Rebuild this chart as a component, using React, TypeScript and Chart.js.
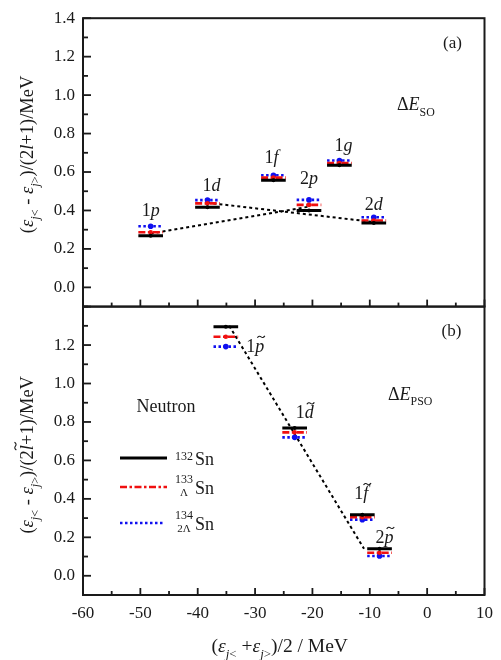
import React, { useEffect, useRef } from 'react';
import { Chart, registerables } from 'chart.js';

Chart.register(...registerables);

// ---------------- data ----------------
const soLevels = ['1p', '1d', '1f', '2p', '1g', '2d'];
const soCenters = [-48.2, -38.3, -26.8, -20.6, -15.3, -9.3];
const soSn132 = [0.268, 0.417, 0.557, 0.4, 0.635, 0.335];
const soSn133 = [0.287, 0.437, 0.571, 0.429, 0.647, 0.348];
const soSn134 = [0.318, 0.454, 0.583, 0.455, 0.66, 0.365];

const psoLevels = ['1p', '1d', '1f', '2p'];
const psoCenters = [-35.1, -23.1, -11.3, -8.3];
const psoSn132 = [1.295, 0.768, 0.317, 0.141];
const psoSn133 = [1.243, 0.746, 0.304, 0.12];
const psoSn134 = [1.192, 0.72, 0.292, 0.103];

const soTrend1X = [-48.2, -20.6];
const soTrend1Y = [0.28, 0.42];
const soTrend2X = [-38.3, -9.3];
const soTrend2Y = [0.44, 0.34];
const psoTrendX = [-34.5, -11.0];
const psoTrendY = [1.3, 0.14];

const xTickLabels = [-60, -50, -40, -30, -20, -10, 0, 10];
const yTopTickLabels = ['0.0', '0.2', '0.4', '0.6', '0.8', '1.0', '1.2', '1.4'];
const yBotTickLabels = ['0.0', '0.2', '0.4', '0.6', '0.8', '1.0', '1.2'];

// ---------------- styles ----------------
const FONT = '"Liberation Serif", "Times New Roman", serif';
const INK = '#1a1a1a';
const BLACK = '#000000';
const RED = '#f01010';
const BLUE = '#1010f0';
const HALF = 2.15; // half width of a level bar in x units

const series = [
  { color: BLACK, width: 3, dash: [] as number[], r: 2 },
  { color: RED, width: 2.6, dash: [7, 2.5, 2.5, 2.5], r: 2.3 },
  { color: BLUE, width: 2.6, dash: [2.5, 2.5], r: 2.8 },
];

type Run = { t: string; it?: boolean; sub?: boolean; sup?: boolean; tilde?: number };

function runFont(r: Run, size: number) {
  const s = r.sub || r.sup ? size * 0.66 : size;
  return `${r.it ? 'italic ' : ''}${s}px ${FONT}`;
}

function measureRuns(ctx: CanvasRenderingContext2D, runs: Run[], size: number) {
  let w = 0;
  for (const r of runs) {
    ctx.font = runFont(r, size);
    w += ctx.measureText(r.t).width;
  }
  return w;
}

function drawRuns(
  ctx: CanvasRenderingContext2D,
  runs: Run[],
  x: number,
  y: number,
  size: number,
  align: 'left' | 'center' | 'right' = 'left'
) {
  const total = measureRuns(ctx, runs, size);
  let cx = align === 'center' ? x - total / 2 : align === 'right' ? x - total : x;
  ctx.textAlign = 'left';
  ctx.textBaseline = 'alphabetic';
  for (const r of runs) {
    ctx.font = runFont(r, size);
    const w = ctx.measureText(r.t).width;
    const dy = r.sub ? size * 0.3 : r.sup ? -size * 0.4 : 0;
    ctx.fillText(r.t, cx, y + dy);
    if (r.tilde) {
      const tw = size * 0.42;
      const a = size * 0.05;
      const x0 = cx + w / 2 - tw / 2 + (r.it ? size * 0.08 : 0);
      const ty = y - size * r.tilde;
      ctx.save();
      ctx.strokeStyle = ctx.fillStyle as string;
      ctx.lineWidth = 1.1;
      ctx.setLineDash([]);
      ctx.beginPath();
      ctx.moveTo(x0, ty + a);
      ctx.quadraticCurveTo(x0 + tw * 0.25, ty - a * 1.8, x0 + tw * 0.5, ty);
      ctx.quadraticCurveTo(x0 + tw * 0.75, ty + a * 1.8, x0 + tw, ty - a);
      ctx.stroke();
      ctx.restore();
    }
    cx += w;
  }
}

function levelRuns(name: string, tilde: boolean): Run[] {
  return [{ t: name[0] }, { t: name.slice(1), it: true, tilde: tilde ? 0.82 : undefined }];
}

function segData(centers: number[], ys: number[]) {
  const out: any[] = [];
  centers.forEach((c, i) => {
    out.push({ x: c - HALF, y: ys[i] }, { x: c, y: ys[i], c: 1 }, { x: c + HALF, y: ys[i] }, { x: c + HALF, y: null });
  });
  return out;
}

function levelDataset(centers: number[], ys: number[], k: number, axis: string) {
  const s = series[k];
  return {
    data: segData(centers, ys),
    yAxisID: axis,
    borderColor: s.color,
    borderWidth: s.width,
    borderDash: s.dash,
    borderCapStyle: 'butt',
    spanGaps: false,
    tension: 0,
    fill: false,
    pointRadius: (c: any) => (c.raw && c.raw.c ? s.r : 0),
    pointBackgroundColor: s.color,
    pointBorderColor: s.color,
    pointBorderWidth: 0,
  };
}

function trendDataset(xs: number[], ys: number[], axis: string) {
  return {
    data: xs.map((x, i) => ({ x, y: ys[i] })),
    yAxisID: axis,
    borderColor: BLACK,
    borderWidth: 2,
    borderDash: [3, 3],
    pointRadius: 0,
    tension: 0,
    fill: false,
  };
}

const titleRuns = (tilde: boolean): Run[] => [
  { t: '(' },
  { t: 'ε', it: true },
  { t: 'j', it: true, sub: true },
  { t: '<', sub: true },
  { t: ' - ' },
  { t: 'ε', it: true },
  { t: 'j', it: true, sub: true },
  { t: '>', sub: true },
  { t: ')/(2' },
  { t: 'l', it: true, tilde: tilde ? 0.95 : undefined },
  { t: '+1)/MeV' },
];

const xTitleRuns: Run[] = [
  { t: '(' },
  { t: 'ε', it: true },
  { t: 'j', it: true, sub: true },
  { t: '<', sub: true },
  { t: ' +' },
  { t: 'ε', it: true },
  { t: 'j', it: true, sub: true },
  { t: '>', sub: true },
  { t: ')/2 / MeV' },
];

const soLabelOffsets = [
  [0, -10], [4, -9], [-2, -12], [0, -16], [4, -9], [0, -7],
];
const psoLabelOffsets = [
  [0, 0], [10, -10], [-1, -16], [5, -6],
];

const decor = {
  id: 'decor',
  afterDraw(chart: any) {
    const { ctx, chartArea: ca } = chart;
    const xs = chart.scales.x;
    const yt = chart.scales.yTop;
    const yb = chart.scales.yBot;
    ctx.save();
    ctx.setLineDash([]);
    ctx.strokeStyle = INK;
    // frames
    ctx.lineWidth = 2;
    for (const s of [yt, yb]) ctx.strokeRect(ca.left, s.top, ca.right - ca.left, s.bottom - s.top);
    // x ticks (inward) at the bottom of both panels
    ctx.lineWidth = 1.8;
    for (let v = xs.min; v <= xs.max + 1e-9; v += 5) {
      const px = xs.getPixelForValue(v);
      const len = Math.round(v) % 10 === 0 ? 7 : 4;
      for (const s of [yt, yb]) {
        ctx.beginPath();
        ctx.moveTo(px, s.bottom);
        ctx.lineTo(px, s.bottom - len);
        ctx.stroke();
      }
    }
    // y ticks (inward)
    for (const s of [yt, yb]) {
      s.ticks.forEach((t: any) => {
        const k = Math.round(t.value * 10);
        const len = k % 2 === 0 ? 8 : 5;
        const py = s.getPixelForValue(t.value);
        ctx.beginPath();
        ctx.moveTo(ca.left, py);
        ctx.lineTo(ca.left + len, py);
        ctx.stroke();
      });
    }

    ctx.fillStyle = INK;
    // level labels
    soLevels.forEach((n, i) => {
      const px = xs.getPixelForValue(soCenters[i]) + soLabelOffsets[i][0];
      const py = yt.getPixelForValue(soSn134[i]) + soLabelOffsets[i][1];
      drawRuns(ctx, levelRuns(n, false), px, py, 18, 'center');
    });
    psoLevels.forEach((n, i) => {
      if (i === 0) {
        const px = xs.getPixelForValue(psoCenters[i] + HALF) + 8;
        const py = yb.getPixelForValue(psoSn134[i]) + 5;
        drawRuns(ctx, levelRuns(n, true), px, py, 18, 'left');
      } else {
        const px = xs.getPixelForValue(psoCenters[i]) + psoLabelOffsets[i][0];
        const py = yb.getPixelForValue(psoSn132[i]) + psoLabelOffsets[i][1];
        drawRuns(ctx, levelRuns(n, true), px, py, 18, 'center');
      }
    });

    // panel labels
    ctx.font = `17px ${FONT}`;
    ctx.textAlign = 'center';
    ctx.textBaseline = 'middle';
    ctx.fillText('(a)', ca.right - 32, yt.top + 25);
    ctx.fillText('(b)', ca.right - 33, yb.top + 25);

    // delta E labels
    drawRuns(ctx, [{ t: 'Δ' }, { t: 'E', it: true }, { t: 'SO', sub: true }], 397, yt.top + 92, 18, 'left');
    drawRuns(ctx, [{ t: 'Δ' }, { t: 'E', it: true }, { t: 'PSO', sub: true }], 388, yb.top + 93, 18, 'left');

    // Neutron + legend
    ctx.font = `18px ${FONT}`;
    ctx.textAlign = 'center';
    ctx.textBaseline = 'alphabetic';
    ctx.fillText('Neutron', 166, 412);
    const legendY = [458, 487, 523];
    const legendX0 = 120;
    const legendX1 = [167, 167, 164];
    series.forEach((s, k) => {
      ctx.save();
      ctx.strokeStyle = s.color;
      ctx.lineWidth = s.width;
      ctx.setLineDash(s.dash);
      ctx.beginPath();
      ctx.moveTo(legendX0, legendY[k]);
      ctx.lineTo(legendX1[k], legendY[k]);
      ctx.stroke();
      ctx.restore();
    });
    const base = [465, 494, 530];
    const sups = ['132', '133', '134'];
    const subs = ['', 'Λ', '2Λ'];
    ctx.fillStyle = INK;
    ctx.textAlign = 'left';
    base.forEach((b, k) => {
      ctx.font = `18px ${FONT}`;
      ctx.fillText('Sn', 195, b);
      ctx.font = `12px ${FONT}`;
      ctx.textAlign = 'center';
      if (subs[k]) {
        ctx.fillText(sups[k], 184, b - 11);
        ctx.font = `11px ${FONT}`;
        ctx.fillText(subs[k], 184, b + 2);
      } else {
        ctx.fillText(sups[k], 184, b - 5);
      }
      ctx.textAlign = 'left';
    });

    // axis titles
    ctx.fillStyle = INK;
    const titleShift = [-8, 4];
    [yt, yb].forEach((s: any, k: number) => {
      ctx.save();
      ctx.translate(33, (s.top + s.bottom) / 2 + titleShift[k]);
      ctx.rotate(-Math.PI / 2);
      drawRuns(ctx, titleRuns(k === 1), 0, 0, 18.5, 'center');
      ctx.restore();
    });
    drawRuns(ctx, xTitleRuns, (ca.left + ca.right) / 2 - 4, 652, 19.5, 'center');
    ctx.restore();
  },
};

const tickFont = { family: FONT, size: 17 };

function yScale(labels: string[]) {
  return {
    type: 'linear',
    position: 'left',
    stack: 'panels',
    stackWeight: 1,
    min: -0.1,
    max: 1.4,
    ticks: {
      stepSize: 0.1,
      autoSkip: false,
      font: tickFont,
      color: INK,
      padding: 8,
      callback: (v: number) => {
        const s = (Math.round(v * 10) / 10).toFixed(1);
        return labels.includes(s) ? s : '';
      },
    },
    grid: { display: false, drawTicks: false },
    border: { display: false },
    afterFit: (s: any) => {
      s.width = 83;
    },
  };
}

export default function App() {
  const ref = useRef<HTMLCanvasElement>(null);
  useEffect(() => {
    const datasets: any[] = [];
    [soSn132, soSn133, soSn134].forEach((ys, k) => datasets.push(levelDataset(soCenters, ys, k, 'yTop')));
    [psoSn132, psoSn133, psoSn134].forEach((ys, k) => datasets.push(levelDataset(psoCenters, ys, k, 'yBot')));
    datasets.push(trendDataset(soTrend1X, soTrend1Y, 'yTop'));
    datasets.push(trendDataset(soTrend2X, soTrend2Y, 'yTop'));
    datasets.push(trendDataset(psoTrendX, psoTrendY, 'yBot'));

    const chart = new Chart(ref.current as HTMLCanvasElement, {
      type: 'line',
      data: { datasets },
      options: {
        responsive: false,
        animation: false,
        devicePixelRatio: 1,
        events: [],
        layout: { padding: { left: 0, right: 8, top: 13, bottom: 0 } },
        plugins: { legend: { display: false }, tooltip: { enabled: false } },
        scales: {
          x: {
            type: 'linear',
            position: 'bottom',
            min: -60,
            max: 10,
            ticks: {
              stepSize: 10,
              autoSkip: false,
              maxRotation: 0,
              font: tickFont,
              color: INK,
              padding: 8,
              callback: (v: number) => (xTickLabels.includes(Math.round(v)) ? String(Math.round(v)) : ''),
            },
            grid: { display: false, drawTicks: false },
            border: { display: false },
            afterFit: (s: any) => {
              s.height = 65;
            },
          },
          yBot: yScale(yBotTickLabels),
          yTop: yScale(yTopTickLabels),
        },
      } as any,
      plugins: [decor],
    } as any);
    return () => chart.destroy();
  }, []);
  return (
    <div style={{ position: 'fixed', left: 0, top: 0, width: 501, height: 660, background: '#fff' }}>
      <canvas ref={ref} width={501} height={660} style={{ display: 'block', width: 501, height: 660 }} />
    </div>
  );
}
